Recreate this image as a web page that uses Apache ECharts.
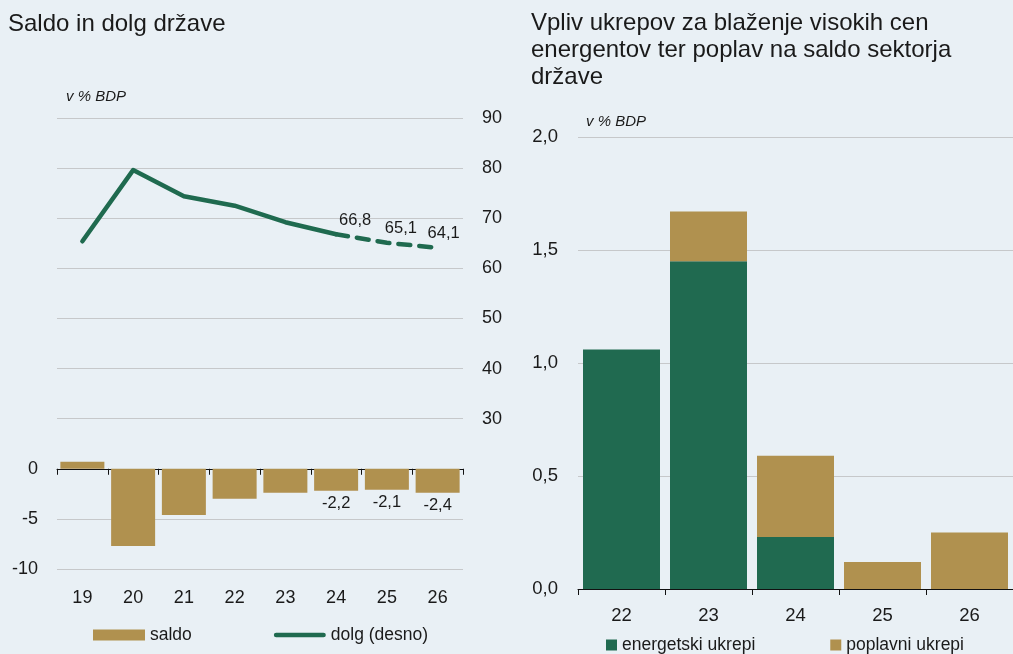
<!DOCTYPE html>
<html>
<head>
<meta charset="utf-8">
<script src="https://cdn.jsdelivr.net/npm/echarts@6/dist/echarts.min.js"></script>
<style>
  html, body { margin: 0; padding: 0; background: #e9f0f5; }
  #chart { width: 1013px; height: 654px; }
</style>
</head>
<body>
<div id="chart"></div>
<script>
// levi graf: saldo in dolg
const years = ['19', '20', '21', '22', '23', '24', '25', '26']
const saldo = [0.7, -7.7, -4.6, -3.0, -2.4, -2.2, -2.1, -2.4]
const dolg = [65.4, 79.6, 74.4, 72.5, 69.2, 66.8, 65.1, 64.1]
const firstForecast = 5 // od 24 naprej črtkano + oznake

// desni graf: ukrepi
const years2 = ['22', '23', '24', '25', '26']
const energetski = [1.06, 1.45, 0.23, 0, 0]
const poplavni = [0, 0.22, 0.36, 0.12, 0.25]

const GREEN = '#1f6a4f'
const GOLD = '#b0914f'
const FONT = 'Liberation Sans'
const comma = v => String(v).replace('.', ',')

const chart = echarts.init(document.getElementById('chart'))

const debtLabelShift = [[19, 0], [14, 0], [6, 0]]

const solidDebt = dolg.map((v, i) => (i <= firstForecast ? v : null))
const dashedDebt = dolg.map((v, i) => {
  if (i < firstForecast) return null
  return { value: v, label: { show: true, offset: debtLabelShift[i - firstForecast] } }
})
const saldoData = saldo.map((v, i) => (i >= firstForecast ? { value: v, label: { show: true } } : v))

const txt = { color: '#1a1a1a', fontFamily: FONT }

chart.setOption({
  backgroundColor: '#e9f0f5',
  animation: false,
  textStyle: { fontFamily: FONT },
  title: [
    { text: 'Saldo in dolg države', left: 8, top: 12, padding: 0, textStyle: { ...txt, fontSize: 24, fontWeight: 'normal' } },
    {
      text: 'Vpliv ukrepov za blaženje visokih cen\nenergentov ter poplav na saldo sektorja\ndržave',
      left: 531, top: 10, padding: 0,
      textStyle: { ...txt, fontSize: 24, fontWeight: 'normal', lineHeight: 27 }
    },
    { text: 'v % BDP', left: 66, top: 89, padding: 0, textStyle: { ...txt, fontSize: 15, fontStyle: 'italic', fontWeight: 'normal' } },
    { text: 'v % BDP', left: 586, top: 114, padding: 0, textStyle: { ...txt, fontSize: 15, fontStyle: 'italic', fontWeight: 'normal' } }
  ],
  legend: [
    {
      left: 93, top: 626, padding: 0,
      itemWidth: 52, itemHeight: 11, itemGap: 82,
      textStyle: { ...txt, fontSize: 17.5 },
      data: [
        { name: 'saldo', icon: 'rect' },
        { name: 'dolg (desno)', icon: 'path://M2.5,0 L52.5,0 A2.5,2.5 0 0 1 52.5,5 L2.5,5 A2.5,2.5 0 0 1 2.5,0 Z' }
      ]
    },
    {
      left: 606, top: 636, padding: 0,
      itemWidth: 11, itemHeight: 11, itemGap: 75,
      textStyle: { ...txt, fontSize: 17.5 },
      data: [{ name: 'energetski ukrepi', icon: 'rect' }, { name: 'poplavni ukrepi', icon: 'rect' }]
    }
  ],
  grid: [
    { left: 57, right: 550, top: 118, bottom: 85 },
    { left: 578, right: -6, top: 137, bottom: 65 }
  ],
  xAxis: [
    {
      type: 'category', gridIndex: 0, data: years,
      axisLine: { onZero: true, onZeroAxisIndex: 0, lineStyle: { color: '#111', width: 1 } },
      axisTick: { show: true, length: 6, lineStyle: { color: '#111' } },
      axisLabel: { show: false }
    },
    {
      type: 'category', gridIndex: 0, data: years, position: 'bottom',
      axisLine: { show: false, onZero: false },
      axisTick: { show: false },
      axisLabel: { ...txt, fontSize: 18, margin: 20 }
    },
    {
      type: 'category', gridIndex: 1, data: years2,
      axisLine: { lineStyle: { color: '#111', width: 1 } },
      axisTick: { show: true, length: 6, lineStyle: { color: '#111' } },
      axisLabel: { ...txt, fontSize: 18.5, margin: 17 }
    }
  ],
  yAxis: [
    {
      type: 'value', gridIndex: 0, min: -10, max: 35, interval: 5,
      axisLine: { show: false }, axisTick: { show: false },
      splitLine: { lineStyle: { color: '#c6c8ca', width: 1 } },
      axisLabel: { ...txt, fontSize: 18, margin: 19, formatter: v => (v > 0 ? '' : String(v)) }
    },
    {
      type: 'value', gridIndex: 0, min: 0, max: 90, interval: 10, position: 'right',
      axisLine: { show: false }, axisTick: { show: false }, splitLine: { show: false },
      axisLabel: { ...txt, fontSize: 18, margin: 19, formatter: v => (v >= 30 ? String(v) : '') }
    },
    {
      type: 'value', gridIndex: 1, min: 0, max: 2, interval: 0.5,
      axisLine: { show: false }, axisTick: { show: false },
      splitLine: { lineStyle: { color: '#c6c8ca', width: 1 } },
      axisLabel: { ...txt, fontSize: 18.5, margin: 20, formatter: v => v.toFixed(1).replace('.', ',') }
    }
  ],
  series: [
    {
      name: 'saldo', type: 'bar', xAxisIndex: 0, yAxisIndex: 0,
      data: saldoData, barWidth: 44,
      itemStyle: { color: GOLD },
      label: { show: false, position: 'bottom', distance: 4, ...txt, fontSize: 16.5, formatter: p => comma(p.value) }
    },
    {
      name: 'dolg (desno)', type: 'line', xAxisIndex: 0, yAxisIndex: 1,
      data: solidDebt, symbol: 'none', z: 5,
      lineStyle: { color: GREEN, width: 4.5, cap: 'round', join: 'round' },
      itemStyle: { color: GREEN }
    },
    {
      name: 'dolg napoved', type: 'line', xAxisIndex: 0, yAxisIndex: 1,
      data: dashedDebt, symbol: 'circle', symbolSize: 1, showSymbol: true, z: 5,
      lineStyle: { color: GREEN, width: 4.5, type: [12, 9], cap: 'round' },
      itemStyle: { color: 'transparent' },
      label: { show: false, position: 'top', distance: 5, ...txt, fontSize: 16.5, formatter: p => comma(p.value) }
    },
    {
      name: 'energetski ukrepi', type: 'bar', xAxisIndex: 2, yAxisIndex: 2, stack: 'u',
      data: energetski, barWidth: 77,
      itemStyle: { color: '#206a50' }
    },
    {
      name: 'poplavni ukrepi', type: 'bar', xAxisIndex: 2, yAxisIndex: 2, stack: 'u',
      data: poplavni, barWidth: 77,
      itemStyle: { color: GOLD }
    }
  ]
})
</script>
</body>
</html>
